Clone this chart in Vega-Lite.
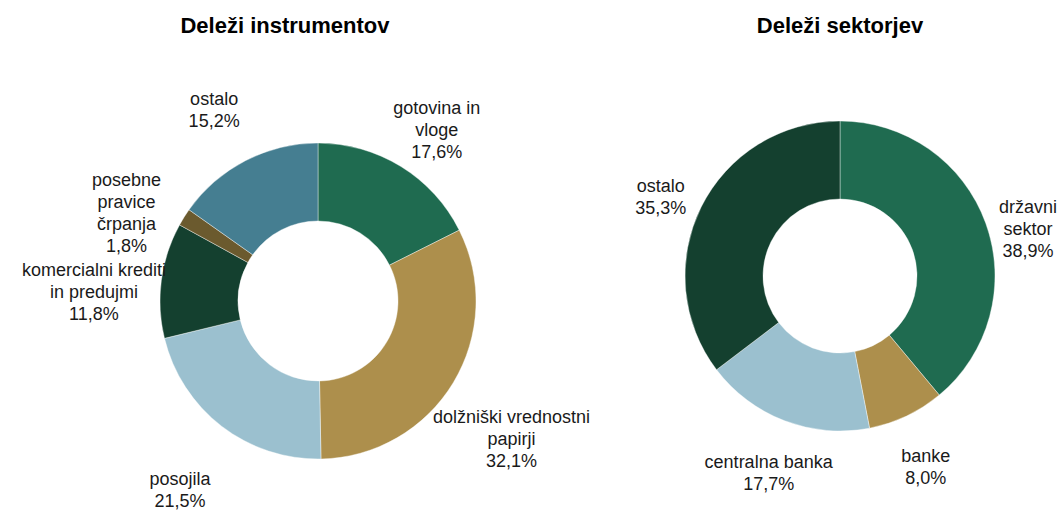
{
  "$schema": "https://vega.github.io/schema/vega-lite/v6.json",
  "padding": {"left": 5, "top": 15, "right": 5, "bottom": 0},
  "spacing": 4,
  "background": "white",
  "datasets": {
    "instrumenti": [
      {"idx": 1, "key": "gotovina", "label": "gotovina in\nvloge\n17,6%", "value": 17.6},
      {"idx": 2, "key": "dolzniski", "label": "dolžniški vrednostni\npapirji\n32,1%", "value": 32.1},
      {"idx": 3, "key": "posojila", "label": "posojila\n21,5%", "value": 21.5},
      {"idx": 4, "key": "komercialni", "label": "komercialni krediti\nin predujmi\n11,8%", "value": 11.8},
      {"idx": 5, "key": "posebne", "label": "posebne\npravice\nčrpanja\n1,8%", "value": 1.8},
      {"idx": 6, "key": "ostalo_i", "label": "ostalo\n15,2%", "value": 15.2}
    ],
    "sektorji": [
      {"idx": 1, "key": "drzavni", "label": "državni\nsektor\n38,9%", "value": 38.9},
      {"idx": 2, "key": "banke", "label": "banke\n8,0%", "value": 8.0},
      {"idx": 3, "key": "centralna", "label": "centralna banka\n17,7%", "value": 17.7},
      {"idx": 4, "key": "ostalo_s", "label": "ostalo\n35,3%", "value": 35.3}
    ]
  },
  "config": {
    "view": {"stroke": null},
    "title": {"font": "Liberation Sans", "fontSize": 22, "fontWeight": "bold", "color": "#000000", "anchor": "middle"},
    "text": {"font": "Liberation Sans", "fontSize": 18, "lineHeight": 22, "lineBreak": "\n", "color": "#1a1a1a", "align": "center", "baseline": "middle"}
  },
  "resolve": {"scale": {"color": "independent", "theta": "independent"}},
  "hconcat": [
    {
      "width": 626,
      "height": 440,
      "title": {"text": "Deleži instrumentov", "offset": 43, "dx": -33},
      "data": {"name": "instrumenti"},
      "encoding": {
        "theta": {"field": "value", "type": "quantitative", "stack": true},
        "order": {"field": "idx", "type": "quantitative"}
      },
      "layer": [
        {
          "mark": {"type": "arc", "innerRadius": 80, "outerRadius": 158, "stroke": "#ffffff", "strokeWidth": 0.4},
          "encoding": {
            "color": {
              "field": "key", "type": "nominal", "legend": null,
              "scale": {
                "domain": ["gotovina", "dolzniski", "posojila", "komercialni", "posebne", "ostalo_i"],
                "range": ["#1F6B50", "#AD8F4C", "#9BC0CF", "#14402F", "#6B5A2E", "#457E91"]
              }
            }
          }
        },
        {
          "mark": {"type": "text", "radius": 226},
          "encoding": {"text": {"field": "label", "type": "nominal"}}
        }
      ]
    },
    {
      "width": 406,
      "height": 390,
      "title": {"text": "Deleži sektorjev", "offset": 43},
      "data": {"name": "sektorji"},
      "encoding": {
        "theta": {"field": "value", "type": "quantitative", "stack": true},
        "order": {"field": "idx", "type": "quantitative"}
      },
      "layer": [
        {
          "mark": {"type": "arc", "innerRadius": 77, "outerRadius": 155, "stroke": "#ffffff", "strokeWidth": 0.4},
          "encoding": {
            "color": {
              "field": "key", "type": "nominal", "legend": null,
              "scale": {
                "domain": ["drzavni", "banke", "centralna", "ostalo_s"],
                "range": ["#1F6B50", "#AD8F4C", "#9BC0CF", "#14402F"]
              }
            }
          }
        },
        {
          "mark": {"type": "text", "radius": 200},
          "encoding": {"text": {"field": "label", "type": "nominal"}}
        }
      ]
    }
  ]
}
